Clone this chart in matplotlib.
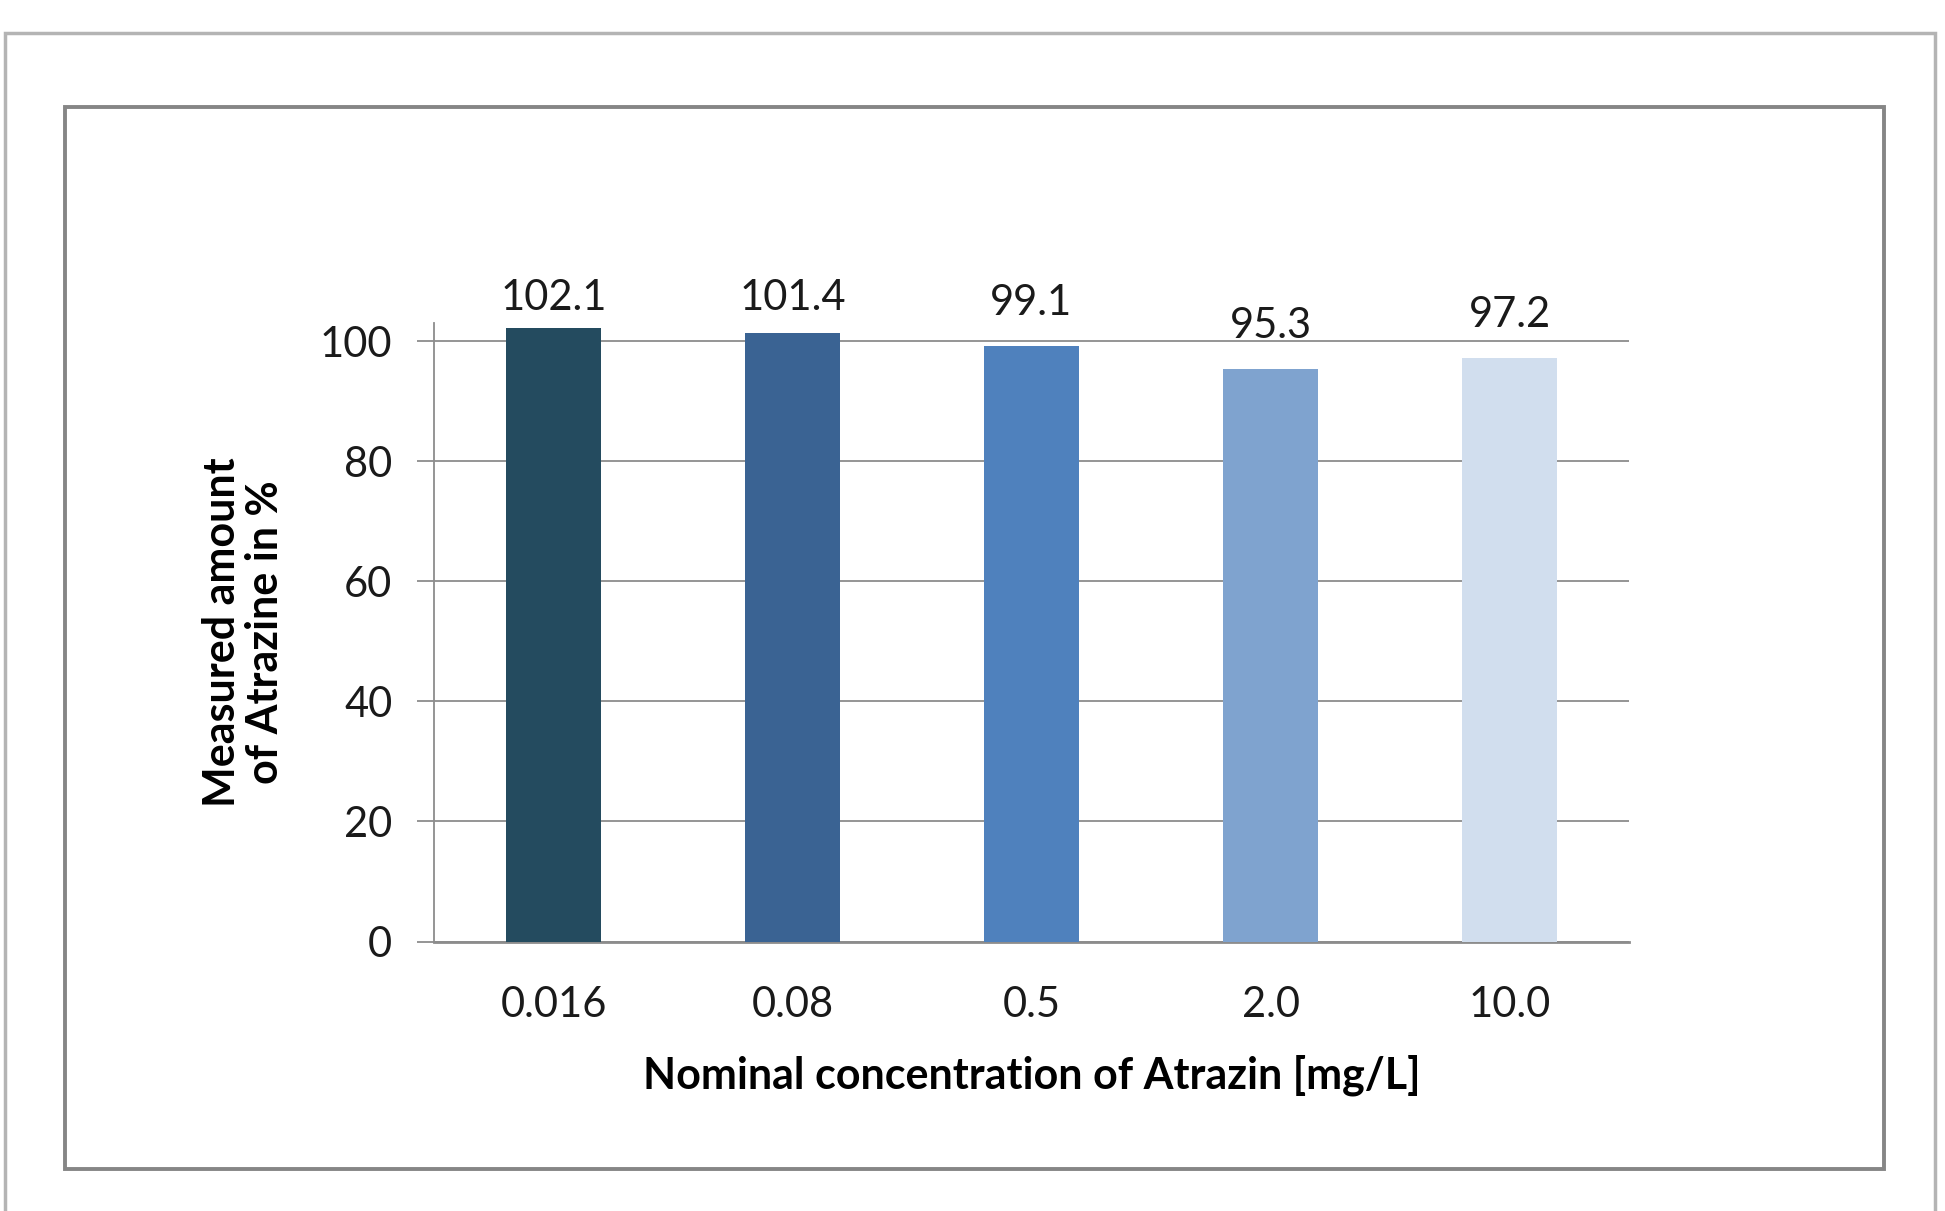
import matplotlib
matplotlib.use("Agg")
import matplotlib.pyplot as plt
from matplotlib.patches import Rectangle

plt.rcParams['font.family'] = ['Lato', 'DejaVu Sans']

# data
concentrations = ["0.016", "0.08", "0.5", "2.0", "10.0"]
measured = [102.1, 101.4, 99.1, 95.3, 97.2]
bar_colors = ["#244B5F", "#3A6393", "#4F81BD", "#7FA3CF", "#D1DEEE"]
y_ticks = [0, 20, 40, 60, 80, 100]

W, H = 1945, 1211
fig = plt.figure(figsize=(W / 100, H / 100), dpi=100)

# outer frame (runs off the bottom of the picture)
fig.patches.append(Rectangle((5 / W, -0.1), 1930 / W, (H - 33) / H + 0.1,
                             transform=fig.transFigure, fill=False,
                             edgecolor="#b4b4b4", linewidth=2.5))
# inner chart frame
fig.patches.append(Rectangle((65 / W, (H - 1169) / H), (1884 - 65) / W, (1169 - 107) / H,
                             transform=fig.transFigure, fill=False,
                             edgecolor="#868686", linewidth=2.8))

ax = fig.add_axes([434 / W, (H - 941.5) / H, (1629 - 434) / W, (941.5 - 323) / H])

x = list(range(len(concentrations)))
ax.bar(x, measured, width=0.4, color=bar_colors, zorder=3)

ymax = 103
ax.set_xlim(-0.5, len(concentrations) - 0.5)
ax.set_ylim(0, ymax)

# value labels sit above the bars, but get pushed down to stay inside the chart area
label_gap = 7.2
label_ceiling = 107.1
for xi, v in zip(x, measured):
    ax.text(xi, min(v + label_gap, label_ceiling), f"{v:.1f}", ha="center", va="center",
            fontsize=30, color="#1a1a1a", clip_on=False)

ax.set_yticks(y_ticks)
ax.set_xticks(x)
ax.set_xticklabels(concentrations)
ax.yaxis.grid(True, color="#8c8c8c", linewidth=1.3, zorder=0)

for s in ["top", "right"]:
    ax.spines[s].set_visible(False)
ax.spines["left"].set_color("#8c8c8c")
ax.spines["left"].set_linewidth(1.3)
ax.spines["bottom"].set_color("#8c8c8c")
ax.spines["bottom"].set_linewidth(2)

ax.tick_params(axis="y", length=12, width=1.3, color="#8c8c8c", pad=18,
               labelsize=30, labelcolor="#1a1a1a")
ax.tick_params(axis="x", length=0, pad=32, labelsize=30, labelcolor="#1a1a1a")

ax.set_xlabel("Nominal concentration of Atrazin [mg/L]", fontsize=31,
              fontweight="bold", labelpad=22)
ax.set_ylabel("Measured amount\nof Atrazine in %", fontsize=31,
              fontweight="bold", labelpad=25, linespacing=1.1)

fig.savefig("out.png", dpi=100)
